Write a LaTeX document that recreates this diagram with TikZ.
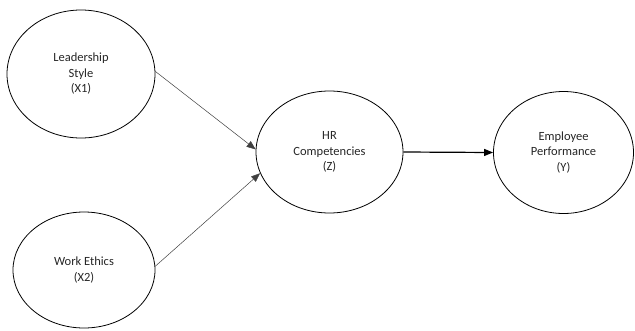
\documentclass[tikz,border=0pt]{standalone}
\usepackage{fontspec}
\setmainfont{Carlito}
\usetikzlibrary{shapes.geometric,arrows.meta}
\begin{document}
\begin{tikzpicture}[x=1pt,y=-1pt,
  latent/.style={ellipse,draw=black,line width=0.8pt,inner sep=0pt,align=center,
    font=\fontsize{12.5}{15.5}\selectfont,text=black!85},
  thinarrow/.style={draw=black!75,line width=0.5pt,-{Triangle[length=9pt,width=7pt]}},
  thickarrow/.style={draw=black,line width=1.2pt,-{Triangle[length=9pt,width=7pt]}}]
\useasboundingbox (0,0) rectangle (635,330);
\node[latent,minimum width=148pt,minimum height=128pt] (x1) at (81,74) {Leadership\\Style\\(X1)};
\node[latent,minimum width=142pt,minimum height=116pt] (x2) at (84,270) {Work Ethics\\(X2)};
\node[latent,minimum width=147pt,minimum height=122pt] (z) at (329.5,152) {HR\\Competencies\\(Z)};
\node[latent,minimum width=140pt,minimum height=122pt] (y) at (563.5,152.5) {Employee\\Performance\\(Y)};
\draw[thinarrow] (x1.2) -- (z.178);
\draw[thinarrow] (x2.3) -- (z.197);
\draw[thickarrow] (z.east) -- (y.west);
\end{tikzpicture}
\end{document}
